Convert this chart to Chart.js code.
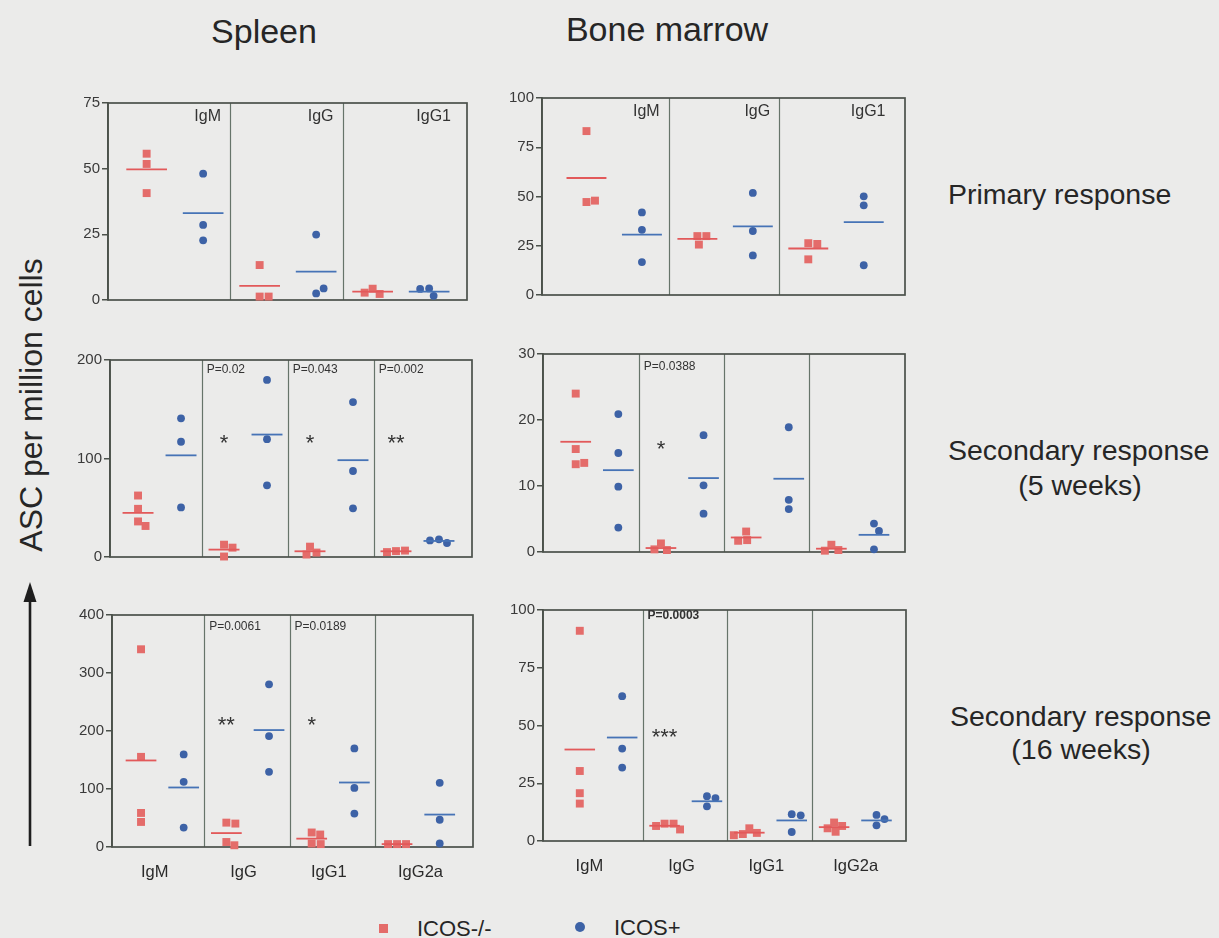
<!DOCTYPE html>
<html>
<head>
<meta charset="utf-8">
<title>ASC per million cells – spleen and bone marrow</title>
<script src="https://cdn.jsdelivr.net/npm/chart.js@4.4.1/dist/chart.umd.min.js"></script>
<style>
  html, body { margin: 0; padding: 0; background: #ebebea; }
  #fig { position: relative; width: 1219px; height: 938px; overflow: hidden;
         background: #ebebea; font-family: "Liberation Sans", Arial, sans-serif; color: #262626; }
  .panel { position: absolute; }
  .txt { position: absolute; white-space: nowrap; line-height: 1; }
  .c { transform: translate(-50%, -50%); }
  .l { transform: translateY(-50%); }
</style>
</head>
<body>
<div id="fig">
  <div class="txt c" style="left:264px;top:31px;font-size:34px;">Spleen</div>
  <div class="txt c" style="left:667px;top:29px;font-size:34px;">Bone marrow</div>

  <div class="txt l" style="left:948px;top:194px;font-size:28.5px;">Primary response</div>
  <div class="txt l" style="left:948px;top:450px;font-size:28.5px;">Secondary response</div>
  <div class="txt c" style="left:1080px;top:485px;font-size:28.5px;">(5 weeks)</div>
  <div class="txt l" style="left:950px;top:716px;font-size:28.5px;">Secondary response</div>
  <div class="txt c" style="left:1081px;top:749px;font-size:28.5px;">(16 weeks)</div>

  <div class="txt c" style="left:31px;top:405px;font-size:32px;transform:translate(-50%,-50%) rotate(-90deg);">ASC per million cells</div>
  <svg style="position:absolute;left:18px;top:578px;" width="26" height="272">
    <line x1="12" y1="20" x2="12" y2="268" stroke="#1e1e1e" stroke-width="2.6"/>
    <polygon points="12,4 5.5,24 18.5,24" fill="#1e1e1e"/>
  </svg>

  <span style="position:absolute;left:379px;top:924px;width:9px;height:9px;background:#e46c6a;"></span>
  <div class="txt l" style="left:417px;top:929px;font-size:22px;">ICOS-/-</div>
  <span style="position:absolute;left:575px;top:922px;width:10px;height:10px;border-radius:50%;background:#3d62a6;"></span>
  <div class="txt l" style="left:614px;top:928px;font-size:22px;">ICOS+</div>
</div>

<script>
// ---------- values: antibody-secreting cells per million cells ----------
const isotypes = ['IgM', 'IgG', 'IgG1', 'IgG2a'];

// Spleen, primary response
const spleenPrimaryKO      = [[55.7, 51.8, 40.7], [13.3, 1.3, 1.3], [4.3, 2.3, 2.8]];
const spleenPrimaryPos     = [[48.1, 28.6, 22.7], [24.9, 2.5, 4.4], [4.4, 1.6, 4.2]];
const spleenPrimaryKOMean  = [49.7, 5.4, 3.2];
const spleenPrimaryPosMean = [33.1, 10.8, 3.2];
const spleenPrimaryTicks   = [0, 25, 50, 75];

// Bone marrow, primary response
const marrowPrimaryKO      = [[83.2, 47.2, 47.9], [29.9, 25.6, 29.9], [26.3, 25.9, 18.1]];
const marrowPrimaryPos     = [[41.9, 33.1, 16.7], [51.8, 32.5, 20.1], [50.1, 45.5, 15.1]];
const marrowPrimaryKOMean  = [59.4, 28.5, 23.6];
const marrowPrimaryPosMean = [30.6, 34.8, 37.0];
const marrowPrimaryTicks   = [0, 25, 50, 75, 100];

// Spleen, secondary response (5 weeks)
const spleen5wKO      = [[62.4, 48.9, 36.1, 31.5], [12.5, 9.5, 0.5], [10.5, 4.5, 2.5], [6, 6.5, 5]];
const spleen5wPos     = [[140.8, 117, 50.3], [179.8, 119.6, 72.8], [157.3, 87.3, 49.4], [17.9, 14.2, 16.8]];
const spleen5wKOMean  = [44.8, 7.5, 5.8, 5.8];
const spleen5wPosMean = [103.2, 124.3, 98.3, 16.3];
const spleen5wTicks   = [0, 100, 200];
const spleen5wP       = ['', 'P=0.02', 'P=0.043', 'P=0.002'];
const spleen5wStars   = ['', '*', '*', '**'];
const spleen5wStarAt  = 121;

// Bone marrow, secondary response (5 weeks)
const marrow5wKO      = [[24.0, 15.6, 13.3, 13.5], [1.3, 0.3, 0.4], [3.1, 1.8, 1.7], [1.1, 0.3, 0.2]];
const marrow5wPos     = [[20.9, 15.0, 9.9, 3.7], [17.7, 10.1, 5.8], [18.9, 7.9, 6.5], [4.3, 3.2, 0.4]];
const marrow5wKOMean  = [16.7, 0.6, 2.2, 0.5];
const marrow5wPosMean = [12.4, 11.2, 11.1, 2.6];
const marrow5wTicks   = [0, 10, 20, 30];
const marrow5wP       = ['', 'P=0.0388', '', ''];
const marrow5wStars   = ['', '*', '', ''];
const marrow5wStarAt  = 16.4;

// Spleen, secondary response (16 weeks)
const spleen16wKO      = [[340.9, 155.4, 58.7, 43.2], [42, 40.4, 8.6, 3], [25, 21.5, 6, 5], [5, 5, 5]];
const spleen16wPos     = [[159.6, 112.3, 33.5], [280.4, 191.2, 129.6], [169.9, 101.9, 57.7], [110.6, 47, 6]];
const spleen16wKOMean  = [149.2, 24, 14.4, 5];
const spleen16wPosMean = [102.6, 201.6, 111.2, 55.9];
const spleen16wTicks   = [0, 100, 200, 300, 400];
const spleen16wP       = ['', 'P=0.0061', 'P=0.0189', ''];
const spleen16wStars   = ['', '**', '*', ''];
const spleen16wStarAt  = 220;

// Bone marrow, secondary response (16 weeks)
const marrow16wKO      = [[91.0, 30.3, 20.7, 16.2], [7.5, 7.5, 6.5, 5], [5.5, 3.5, 3, 2.5], [8, 6.5, 5.5, 4]];
const marrow16wPos     = [[62.7, 40.0, 31.8], [19.4, 18.6, 15.0], [11.6, 11.1, 3.9], [11.3, 9.5, 6.8]];
const marrow16wKOMean  = [39.6, 6.6, 3.6, 6.0];
const marrow16wPosMean = [44.8, 17.2, 8.9, 8.9];
const marrow16wTicks   = [0, 25, 50, 75, 100];
const marrow16wP       = ['', 'P=0.0003', '', ''];
const marrow16wStars   = ['', '***', '', ''];
const marrow16wStarAt  = 47.5;

// ---------- styling ----------
const FONT = '"Liberation Sans", Arial, sans-serif';
const KO_FILL = '#e46c6a', POS_FILL = '#3d62a6';
const KO_LINE = '#e2595a', POS_LINE = '#4673b6';
const FRAME = '#4b514b', DIVIDER = '#66746a', INK = '#333';
const KO_COL = 0.26, POS_COL = 0.76, HALF_BAR = 0.18;

// Frame, sub-panel dividers and annotation text inside each panel
const panelDecor = {
  id: 'panelDecor',
  beforeDatasetsDraw(chart, args, o) {
    const { ctx, chartArea: a, scales: { x, y } } = chart;
    ctx.save();
    ctx.strokeStyle = DIVIDER; ctx.lineWidth = 1.2;
    o.dividers.forEach(v => {
      const px = Math.round(x.getPixelForValue(v)) + 0.5;
      ctx.beginPath(); ctx.moveTo(px, a.top); ctx.lineTo(px, a.bottom); ctx.stroke();
    });
    ctx.strokeStyle = FRAME; ctx.lineWidth = 1.7;
    ctx.strokeRect(a.left, a.top, a.right - a.left, a.bottom - a.top);

    ctx.fillStyle = INK;
    (o.heads || []).forEach((t, k) => {
      ctx.font = '16px ' + FONT; ctx.textAlign = 'center'; ctx.textBaseline = 'middle';
      ctx.fillText(t, x.getPixelForValue(k + 0.8), a.top + 14);
    });
    (o.pvalues || []).forEach((t, k) => {
      if (!t) return;
      ctx.font = (o.boldP ? 'bold ' : '') + '12px ' + FONT;
      ctx.textAlign = 'left'; ctx.textBaseline = 'middle';
      ctx.fillText(t, x.getPixelForValue(k) + 5, a.top + o.pTop);
    });
    (o.stars || []).forEach((t, k) => {
      if (!t) return;
      const f = 22;
      ctx.font = f + 'px ' + FONT; ctx.textAlign = 'center'; ctx.textBaseline = 'alphabetic';
      ctx.fillText(t, x.getPixelForValue(k + KO_COL), y.getPixelForValue(o.starAt) + 0.57 * f);
    });
    ctx.restore();
  }
};

// Column scatter: points that would overlap are pushed sideways by the smallest amount
function swarm(values, centre, xs, ys) {
  const GAP = 8.6, cx = xs.getPixelForValue(centre), placed = [];
  return values.map(v => {
    const py = ys.getPixelForValue(v);
    let off = 0;
    for (let i = 0; i < 400; i++) {
      const cand = i === 0 ? 0 : (i % 2 ? 1 : -1) * Math.ceil(i / 2) * 0.5;
      if (placed.every(p => Math.hypot(p.x - (cx + cand), p.y - py) >= GAP)) { off = cand; break; }
    }
    placed.push({ x: cx + off, y: py });
    return { x: xs.getValueForPixel(cx + off), y: v };
  });
}

function makePanel(p) {
  const PAD_T = 12, PAD_R = 12, Y_W = 60;
  const bottomH = p.bottom ? 34 : 6;
  const w = p.R - p.L + Y_W + PAD_R, h = p.B - p.T + PAD_T + bottomH;
  const holder = document.createElement('div');
  holder.className = 'panel';
  holder.style.left = (p.L - Y_W) + 'px';
  holder.style.top = (p.T - PAD_T) + 'px';
  const cv = document.createElement('canvas');
  cv.width = w; cv.height = h; cv.style.width = w + 'px'; cv.style.height = h + 'px';
  holder.appendChild(cv);
  document.getElementById('fig').appendChild(holder);

  const n = p.ko.length;
  const datasets = [];
  for (let k = 0; k < n; k++) {
    [[p.ko[k], p.koMean[k], k + KO_COL, KO_FILL, KO_LINE, 'rect', 5.6],
     [p.pos[k], p.posMean[k], k + POS_COL, POS_FILL, POS_LINE, 'circle', 3.9]].forEach(
      ([vals, mean, c, fill, line, style, r]) => {
        datasets.push({
          data: vals.map(v => ({ x: c, y: v })), centre: c, swarm: true,
          showLine: false, pointStyle: style, pointRadius: r, pointBorderWidth: 0,
          backgroundColor: fill, borderColor: fill, order: 2, clip: false
        });
        datasets.push({
          data: [{ x: c - HALF_BAR, y: mean }, { x: c + HALF_BAR, y: mean }],
          showLine: true, pointRadius: 0, borderColor: line, borderWidth: 1.8,
          order: 1, clip: false
        });
      });
  }

  const centres = [];
  for (let k = 0; k < n; k++) {
    const lo = k === 0 ? p.xMin : k, hi = k === n - 1 ? p.xMax : k + 1;
    centres.push((lo + hi) / 2 - 0.04);
  }

  const chart = new Chart(cv, {
    type: 'scatter',
    data: { datasets },
    plugins: [panelDecor],
    options: {
      responsive: false, animation: false, events: [],
      layout: { padding: { top: PAD_T, right: PAD_R, left: 0, bottom: p.bottom ? 0 : bottomH } },
      plugins: {
        legend: { display: false }, tooltip: { enabled: false },
        panelDecor: {
          dividers: Array.from({ length: n - 1 }, (_, i) => i + 1),
          heads: p.heads, pvalues: p.pvalues, boldP: p.boldP, pTop: p.pTop || 11,
          stars: p.stars, starAt: p.starAt
        }
      },
      scales: {
        x: {
          type: 'linear', min: p.xMin, max: p.xMax, display: !!p.bottom,
          grid: { display: false }, border: { display: false },
          afterBuildTicks: s => { s.ticks = centres.map(v => ({ value: v })); },
          afterFit: s => { s.height = 34; },
          ticks: {
            autoSkip: false, maxRotation: 0, padding: 8, color: '#2a2a2a',
            font: { size: 16.5, family: FONT },
            callback: (v, i) => isotypes[i]
          }
        },
        y: {
          type: 'linear', min: 0, max: p.ticks[p.ticks.length - 1],
          afterBuildTicks: s => { s.ticks = p.ticks.map(v => ({ value: v })); },
          afterFit: s => { s.width = Y_W; },
          grid: { drawOnChartArea: false, drawTicks: true, tickLength: 6, color: FRAME, lineWidth: 1.5 },
          border: { display: true, color: FRAME, width: 1.7 },
          ticks: { padding: 2, color: '#3a3a3a', font: { size: 15, family: FONT } }
        }
      }
    }
  });

  // second pass: spread overlapping points now that the pixel scales exist
  chart.data.datasets.forEach(ds => {
    if (ds.swarm) ds.data = swarm(ds.data.map(d => d.y), ds.centre, chart.scales.x, chart.scales.y);
  });
  chart.update('none');
}

makePanel({ L: 108, T: 103, R: 467, B: 334, xMin: -0.082, xMax: 3.095,
  ko: spleenPrimaryKO, pos: spleenPrimaryPos, koMean: spleenPrimaryKOMean, posMean: spleenPrimaryPosMean,
  ticks: spleenPrimaryTicks, heads: isotypes.slice(0, 3) });

makePanel({ L: 542, T: 98, R: 905, B: 329, xMin: -0.141, xMax: 3.132,
  ko: marrowPrimaryKO, pos: marrowPrimaryPos, koMean: marrowPrimaryKOMean, posMean: marrowPrimaryPosMean,
  ticks: marrowPrimaryTicks, heads: isotypes.slice(0, 3) });

makePanel({ L: 110, T: 360, R: 472, B: 591, xMin: -0.066, xMax: 4.144,
  ko: spleen5wKO, pos: spleen5wPos, koMean: spleen5wKOMean, posMean: spleen5wPosMean,
  ticks: spleen5wTicks, pvalues: spleen5wP, stars: spleen5wStars, starAt: spleen5wStarAt, pTop: 10 });

makePanel({ L: 543, T: 354, R: 905, B: 586, xMin: -0.124, xMax: 4.124,
  ko: marrow5wKO, pos: marrow5wPos, koMean: marrow5wKOMean, posMean: marrow5wPosMean,
  ticks: marrow5wTicks, pvalues: marrow5wP, stars: marrow5wStars, starAt: marrow5wStarAt, pTop: 13 });

makePanel({ L: 112, T: 615, R: 473, B: 847, xMin: -0.08, xMax: 4.15, bottom: true,
  ko: spleen16wKO, pos: spleen16wPos, koMean: spleen16wKOMean, posMean: spleen16wPosMean,
  ticks: spleen16wTicks, pvalues: spleen16wP, stars: spleen16wStars, starAt: spleen16wStarAt, pTop: 12 });

makePanel({ L: 543, T: 610, R: 906, B: 841, xMin: -0.174, xMax: 4.108, bottom: true,
  ko: marrow16wKO, pos: marrow16wPos, koMean: marrow16wKOMean, posMean: marrow16wPosMean,
  ticks: marrow16wTicks, pvalues: marrow16wP, boldP: true, stars: marrow16wStars, starAt: marrow16wStarAt, pTop: 6 });
</script>
</body>
</html>
